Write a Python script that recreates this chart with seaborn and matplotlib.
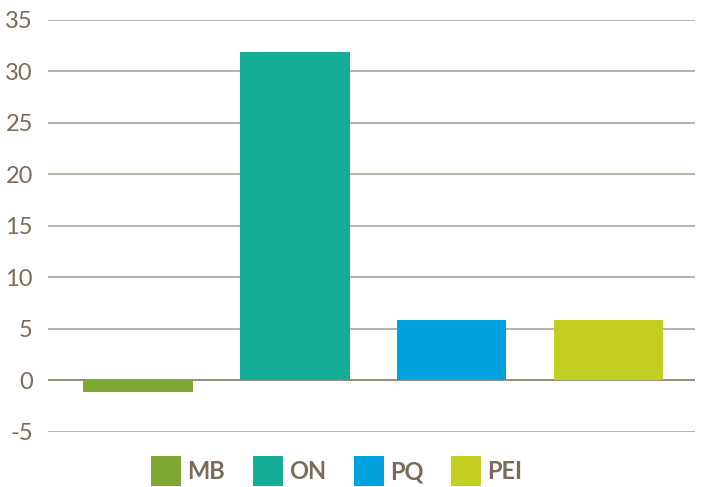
import matplotlib
matplotlib.use('Agg')
import matplotlib.pyplot as plt
from matplotlib.lines import Line2D
import seaborn as sns

# data
regions = ['MB', 'ON', 'PQ', 'PEI']
values = [-1.1, 31.9, 5.9, 5.9]
colors = ['#7ea832', '#14ad98', '#00a3e0', '#c2cf22']
yticks = [-5, 0, 5, 10, 15, 20, 25, 30, 35]

text_col = '#7b6b58'
grid_col = '#a89a8c'

sns.set_style('white')
plt.rcParams['font.family'] = ['Lato', 'DejaVu Sans']

fig = plt.figure(figsize=(7.09, 4.87), dpi=100)
ax = fig.add_axes([0.068, 0.113, 0.912, 0.846])

sns.barplot(x=regions, y=values, hue=regions, palette=colors, width=0.7,
            saturation=1, linewidth=0, legend=False, ax=ax)

ax.set_ylim(-5, 35)
ax.set_xlim(-0.57, 3.55)
ax.set_yticks(yticks)
ax.set_yticklabels([str(t) for t in yticks], fontsize=17, color=text_col)
ax.set_xticks([])
ax.set_xlabel('')
ax.set_ylabel('')
ax.tick_params(axis='y', length=0, pad=11)
for s in ax.spines.values():
    s.set_visible(False)

# gridlines behind the bars, zero line a bit darker
for t in yticks:
    ax.axhline(t, color=text_col if t == 0 else grid_col, lw=1.1, zorder=0)

handles = [Line2D([], [], ls='none', marker='s', markersize=22,
                  markerfacecolor=c, markeredgewidth=0) for c in colors]
leg = ax.legend(handles, regions, loc='center', bbox_to_anchor=(0.446, -0.097),
                ncol=4, frameon=False, handlelength=1.3, handletextpad=0.25,
                columnspacing=1.15, prop={'size': 17, 'weight': 'bold'})
for txt in leg.get_texts():
    txt.set_color(text_col)

fig.savefig('out.png', dpi=100)
